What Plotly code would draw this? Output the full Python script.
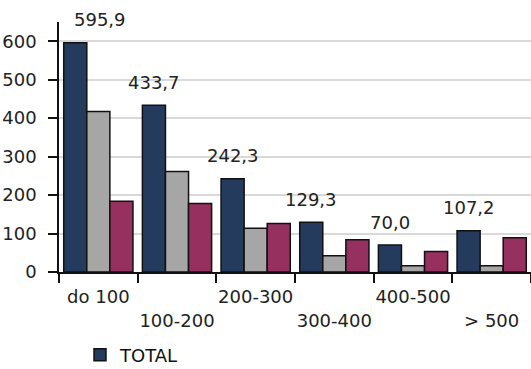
import plotly.graph_objects as go

categories = ["do 100", "100-200", "200-300", "300-400", "400-500", "> 500"]
tick_labels = ["do 100", "<br>100-200", "200-300", "<br>300-400", "400-500", "<br>> 500"]
total = [595.9, 433.7, 242.3, 129.3, 70.0, 107.2]
series2 = [417, 261, 114, 42, 16, 16]
series3 = [184, 178, 126, 84, 53, 89]
total_labels = ["595,9", "433,7", "242,3", "129,3", "70,0", "107,2"]
y_ticks = [0, 100, 200, 300, 400, 500, 600]

FONT = "DejaVu Sans"
FS = 18
line = dict(color="#111111", width=1.5)

W, H = 531, 369

fig = go.Figure()
fig.add_bar(x=categories, y=total, name="TOTAL", marker=dict(color="#243B5E", line=line))
fig.add_bar(x=categories, y=series2, name="S2", showlegend=False, marker=dict(color="#A6A6A6", line=line))
fig.add_bar(x=categories, y=series3, name="S3", showlegend=False, marker=dict(color="#96305E", line=line))

bargap = 0.12
bar_w_px = 78.7 * (1 - bargap) / 3
for i, (c, v, t) in enumerate(zip(categories, total, total_labels)):
    xs = -bar_w_px
    if i == 0:
        xs = 2
    fig.add_annotation(x=c, y=v, text=t, showarrow=False, xshift=xs, yshift=23,
                       yanchor="middle", font=dict(family=FONT, size=FS, color="#222222"))

fig.update_layout(
    width=W, height=H,
    margin=dict(l=59, r=0, t=22, b=96.5, autoexpand=False),
    plot_bgcolor="white", paper_bgcolor="white",
    barmode="group", bargap=bargap, bargroupgap=0,
    font=dict(family=FONT, size=FS, color="#222222"),
    showlegend=True,
    legend=dict(orientation="h", xref="container", yref="container", x=80 / W, y=1 - 355 / H,
                xanchor="left", yanchor="middle", font=dict(family=FONT, size=FS, color="#111111"),
                itemwidth=30, bgcolor="rgba(0,0,0,0)"),
)
fig.update_xaxes(
    tickvals=categories, ticktext=tick_labels, tickson="boundaries", tickangle=0,
    ticks="outside", ticklen=9, tickcolor="#111111", tickwidth=1.5, automargin=False,
    showline=True, linecolor="#111111", linewidth=1.5, showgrid=False,
    ticklabelstandoff=8,
    tickfont=dict(family=FONT, size=FS, color="#222222"),
)
fig.update_yaxes(
    range=[0, 650], tickvals=y_ticks, ticks="outside", ticklen=9, tickcolor="#111111", tickwidth=1.5,
    showline=True, linecolor="#111111", linewidth=1.5, automargin=False,
    showgrid=True, gridcolor="#D9D9D9", gridwidth=1.5, zeroline=False,
    ticklabelstandoff=8,
    tickfont=dict(family=FONT, size=FS, color="#222222"),
)

fig.write_html("out.html", config={"displayModeBar": False},
               post_script="document.body.style.margin='0';document.body.style.overflow='hidden';")
